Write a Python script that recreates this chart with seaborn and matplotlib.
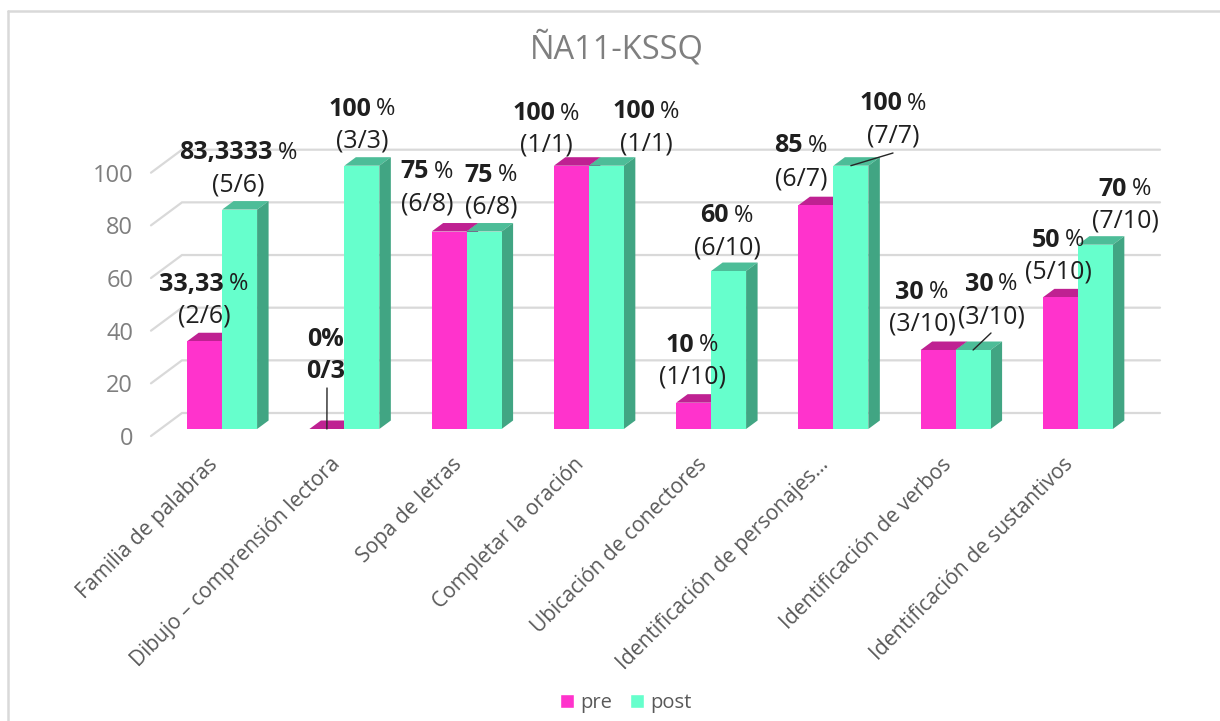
import pandas as pd
import seaborn as sns
import matplotlib.pyplot as plt
from matplotlib.lines import Line2D
from matplotlib.patches import Patch, Polygon
from matplotlib.transforms import ScaledTranslation

categories = ['Familia de palabras', 'Dibujo – comprensión lectora', 'Sopa de letras',
              'Completar la oración', 'Ubicación de conectores',
              'Identificación de personajes…', 'Identificación de verbos',
              'Identificación de sustantivos']
pre = [33.33, 0, 75, 100, 10, 85, 30, 50]
post = [83.3333, 100, 75, 100, 60, 100, 30, 70]
pre_pct = ['33,33', '0', '75', '100', '10', '85', '30', '50']
post_pct = ['83,3333', '100', '75', '100', '60', '100', '30', '70']
pre_frac = ['(2/6)', '0/3', '(6/8)', '(1/1)', '(1/10)', '(6/7)', '(3/10)', '(5/10)']
post_frac = ['(5/6)', '(3/3)', '(6/8)', '(1/1)', '(6/10)', '(7/7)', '(3/10)', '(7/10)']
y_ticks = [0, 20, 40, 60, 80, 100]

# posicion de las etiquetas en pixeles (centro x, linea 1 y, linea 2 y)
pre_pos = [(204, 284, 316), (326, 340, 371), (427, 172, 204), (546, 114, 145),
           (692, 345, 377), (801, 146, 179), (922, 292, 324), (1058, 240, 272)]
post_pos = [(238, 153, 185), (362, 109, 141), (491, 175, 207), (646, 112, 144),
            (727, 216, 248), (893, 104, 136), (991, 284, 317), (1125, 189, 221)]

PINK = '#ff33cc'
TEAL = '#66ffcc'
W, H = 1220, 721
FONT = 'Open Sans'
TXT = '#1f1f1f'

sns.set_theme(style='white')
plt.rcParams['font.family'] = [FONT, 'DejaVu Sans']

fig = plt.figure(figsize=(W / 100, H / 100), dpi=100, facecolor='white')
ax = fig.add_axes([161 / W, 1 - 429 / H, 978 / W, 263.3 / H])
ax.patch.set_alpha(0)


def px(x, y):
    return x / W, 1 - y / H


df = pd.DataFrame({
    'cat': categories * 2,
    'serie': ['pre'] * 8 + ['post'] * 8,
    'valor': pre + post,
})
sns.barplot(data=df, x='cat', y='valor', hue='serie', order=categories,
            palette={'pre': PINK, 'post': TEAL}, width=0.572, gap=0, saturation=1,
            linewidth=0, legend=False, zorder=3, ax=ax)
ax.set_ylim(0, 100)
ax.set_xlim(-0.5, 7.5)
sns.despine(ax=ax, left=True, bottom=True)
ax.set_xlabel('')
ax.set_ylabel('')

sx = (ax.get_xlim()[1] - ax.get_xlim()[0]) / 978
sy = 100 / 263.3

# paredes: lineas de la grilla con el quiebre del piso 3D
for v in y_ticks:
    x0 = -0.5 - 10 * sx
    x1 = -0.5 + 21 * sx
    x2 = 7.5 + 21 * sx
    ax.plot([x0, x1, x2], [v - 7 * sy, v + 16 * sy, v + 16 * sy], color='#d9d9d9',
            lw=1.6, clip_on=False, zorder=1, solid_joinstyle='miter')

# caras de arriba y del costado de cada barra
dx, dy = 11.5 * sx, 8.5 * sy
faces = {0: ('#bf2192', '#a01c7c'), 1: ('#4dbd98', '#41a583')}
for i, cont in enumerate(ax.containers):
    top_c, side_c = faces[i]
    for b in cont:
        x, w, h = b.get_x(), b.get_width(), b.get_height()
        ax.add_patch(Polygon([(x, h), (x + w, h), (x + w + dx, h + dy), (x + dx, h + dy)],
                             fc=top_c, lw=0, clip_on=False, zorder=2))
        ax.add_patch(Polygon([(x + w, 0), (x + w + dx, dy), (x + w + dx, h + dy), (x + w, h)],
                             fc=side_c, lw=0, clip_on=False, zorder=2))

ax.set_yticks(y_ticks)
ax.tick_params(axis='y', length=0, pad=20, labelsize=17, labelcolor='#7f7f7f')
ax.tick_params(axis='x', length=0, pad=18)
ax.set_xticks(range(8))
ax.set_xticklabels(categories, rotation=45, ha='right', rotation_mode='anchor',
                   fontsize=15.1, color='#595959')
shift_y = ScaledTranslation(0, -7 / 100, fig.dpi_scale_trans)
for lab in ax.get_yticklabels():
    lab.set_transform(lab.get_transform() + shift_y)
shift_x = ScaledTranslation(-15 / 100, 0, fig.dpi_scale_trans)
for lab in ax.get_xticklabels():
    lab.set_transform(lab.get_transform() + shift_x)

fig.text(617 / W, 1 - 49 / H, 'ÑA11-KSSQ', ha='center', va='center', fontsize=23.5, color='#7f7f7f')


def pct_label(cx, y, num, fs=18):
    # parte en negrita y el signo % normal, centrados juntos
    rend = fig.canvas.get_renderer()
    fx, fy = px(cx, y)
    if num == '0':
        fig.text(fx, fy, '0%', ha='center', va='center', fontsize=fs, weight='bold', color=TXT, zorder=5)
        return
    t1 = fig.text(fx, fy, num, ha='left', va='center', fontsize=fs, weight='bold', color=TXT, zorder=5)
    t2 = fig.text(fx, fy, '%', ha='left', va='center', fontsize=fs - 1, color=TXT, zorder=5)
    w1 = t1.get_window_extent(rend).width
    w2 = t2.get_window_extent(rend).width
    left = cx - (w1 + w2 + 5) / 2
    t1.set_x(left / W)
    t2.set_x((left + w1 + 5) / W)


for pcts, fracs, pos in [(pre_pct, pre_frac, pre_pos), (post_pct, post_frac, post_pos)]:
    for p, f, (cx, y1, y2) in zip(pcts, fracs, pos):
        pct_label(cx, y1, p)
        fx, fy = px(cx, y2)
        fig.text(fx, fy, f, ha='center', va='center', fontsize=18, color=TXT, zorder=5,
                 weight='bold' if f == '0/3' else 'normal')

# lineas guia de las etiquetas desplazadas
for b, end in [(ax.containers[0][1], (327, 388)), (ax.containers[1][5], (893, 153)),
               (ax.containers[1][6], (991, 333))]:
    ax.annotate('', xy=(b.get_x() + b.get_width() / 2, b.get_height()), xycoords='data',
                xytext=(end[0], H - end[1]), textcoords='figure pixels', zorder=6,
                arrowprops=dict(arrowstyle='-', color='#262626', lw=1, shrinkA=0, shrinkB=0))

handles = [Patch(fc=PINK, label='pre'), Patch(fc=TEAL, label='post')]
fig.legend(handles=handles, loc='center', bbox_to_anchor=px(626, 703), ncol=2, frameon=False,
           fontsize=14.5, labelcolor='#595959', handlelength=0.7, handleheight=0.7,
           handletextpad=0.3, columnspacing=0.9)

# borde del grafico: solo arriba y a la izquierda
for xs, ys in [((8, 8), (11, 721)), ((8, 1220), (11, 11))]:
    fig.add_artist(Line2D([x / W for x in xs], [1 - y / H for y in ys], color='#d9d9d9', lw=1.8))

fig.savefig('out.png', dpi=100)
